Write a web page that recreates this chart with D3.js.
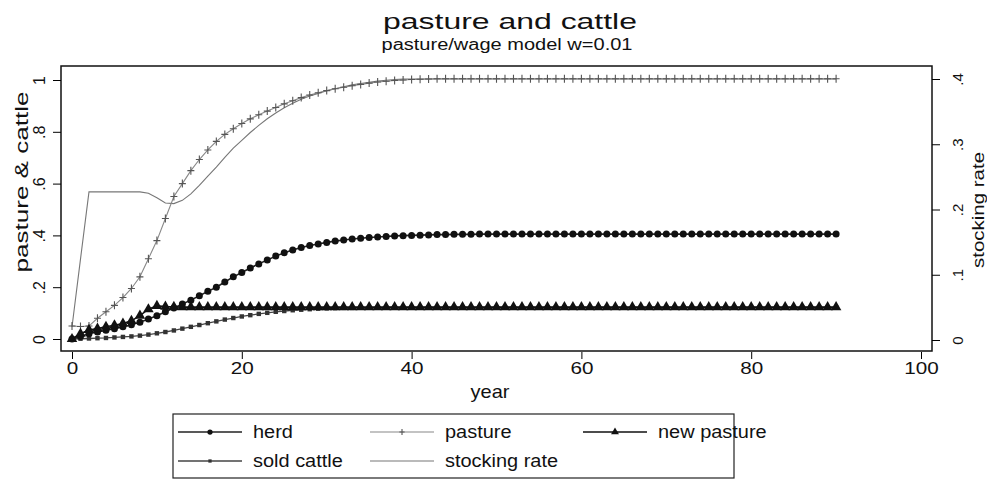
<!DOCTYPE html>
<html>
<head>
<meta charset="utf-8">
<script src="https://cdn.jsdelivr.net/npm/d3@7"></script>
<style>
body { margin: 0; background: #fff; }
svg text { font-family: "Liberation Sans", Arial, Helvetica, sans-serif; fill: #111; }
</style>
</head>
<body>
<div id="viz"></div>
<script>
// values, one per year 0..90
var years = [0,1,2,3,4,5,6,7,8,9,
    10,11,12,13,14,15,16,17,18,19,
    20,21,22,23,24,25,26,27,28,29,
    30,31,32,33,34,35,36,37,38,39,
    40,41,42,43,44,45,46,47,48,49,
    50,51,52,53,54,55,56,57,58,59,
    60,61,62,63,64,65,66,67,68,69,
    70,71,72,73,74,75,76,77,78,79,
    80,81,82,83,84,85,86,87,88,89,
    90];

var herd = [0,0.01,0.02,0.027,0.034,0.04,0.047,0.055,0.065,0.077,
    0.09,0.105,0.12,0.135,0.15,0.167,0.184,0.2,0.22,0.24,
    0.257,0.274,0.29,0.305,0.32,0.333,0.344,0.353,0.361,0.367,
    0.373,0.378,0.382,0.386,0.389,0.392,0.394,0.396,0.398,0.399,
    0.4,0.401,0.402,0.403,0.403,0.404,0.404,0.404,0.405,0.405,
    0.405,0.405,0.405,0.405,0.405,0.405,0.405,0.405,0.405,0.405,
    0.405,0.405,0.405,0.405,0.405,0.405,0.405,0.405,0.405,0.405,
    0.405,0.405,0.405,0.405,0.405,0.405,0.405,0.405,0.405,0.405,
    0.405,0.405,0.405,0.405,0.405,0.405,0.405,0.405,0.405,0.405,
    0.405];

var pasture = [0.05,0.048,0.05,0.08,0.105,0.13,0.16,0.195,0.24,0.31,
    0.38,0.465,0.55,0.6,0.65,0.693,0.73,0.763,0.79,0.812,
    0.832,0.85,0.866,0.88,0.894,0.908,0.92,0.932,0.942,0.951,
    0.959,0.966,0.972,0.978,0.983,0.988,0.992,0.995,0.998,1.0,
    1.002,1.003,1.004,1.005,1.005,1.005,1.005,1.005,1.005,1.005,
    1.005,1.005,1.005,1.005,1.005,1.005,1.005,1.005,1.005,1.005,
    1.005,1.005,1.005,1.005,1.005,1.005,1.005,1.005,1.005,1.005,
    1.005,1.005,1.005,1.005,1.005,1.005,1.005,1.005,1.005,1.005,
    1.005,1.005,1.005,1.005,1.005,1.005,1.005,1.005,1.005,1.005,
    1.005];

var newPasture = [0,0.02,0.035,0.04,0.047,0.053,0.06,0.07,0.09,0.115,
    0.128,0.125,0.124,0.123,0.123,0.123,0.123,0.123,0.123,0.123,
    0.123,0.123,0.123,0.123,0.123,0.123,0.123,0.123,0.123,0.123,
    0.123,0.123,0.123,0.123,0.123,0.123,0.123,0.123,0.123,0.123,
    0.123,0.123,0.123,0.123,0.123,0.123,0.123,0.123,0.123,0.123,
    0.123,0.123,0.123,0.123,0.123,0.123,0.123,0.123,0.123,0.123,
    0.123,0.123,0.123,0.123,0.123,0.123,0.123,0.123,0.123,0.123,
    0.123,0.123,0.123,0.123,0.123,0.123,0.123,0.123,0.123,0.123,
    0.123,0.123,0.123,0.123,0.123,0.123,0.123,0.123,0.123,0.123,
    0.123];

var soldCattle = [0,0.001,0.002,0.003,0.004,0.006,0.008,0.01,0.013,0.017,
    0.022,0.027,0.033,0.04,0.047,0.054,0.061,0.068,0.075,0.081,
    0.087,0.092,0.097,0.101,0.105,0.108,0.111,0.113,0.115,0.117,
    0.118,0.119,0.12,0.12,0.121,0.121,0.121,0.122,0.122,0.122,
    0.122,0.122,0.122,0.122,0.122,0.122,0.122,0.122,0.122,0.122,
    0.122,0.122,0.122,0.122,0.122,0.122,0.122,0.122,0.122,0.122,
    0.122,0.122,0.122,0.122,0.122,0.122,0.122,0.122,0.122,0.122,
    0.122,0.122,0.122,0.122,0.122,0.122,0.122,0.122,0.122,0.122,
    0.122,0.122,0.122,0.122,0.122,0.122,0.122,0.122,0.122,0.122,
    0.122];

// stocking rate is on the right hand axis
var stockingRate = [0.02,0.124,0.227,0.227,0.227,0.227,0.227,0.227,0.227,0.225,
    0.218,0.21,0.209,0.214,0.224,0.237,0.251,0.265,0.28,0.294,
    0.306,0.318,0.329,0.339,0.348,0.356,0.363,0.369,0.374,0.378,
    0.382,0.385,0.388,0.391,0.393,0.395,0.397,0.398,0.399,0.4,
    0.4,0.4,0.4,0.4,0.4,0.4,0.4,0.4,0.4,0.4,
    0.4,0.4,0.4,0.4,0.4,0.4,0.4,0.4,0.4,0.4,
    0.4,0.4,0.4,0.4,0.4,0.4,0.4,0.4,0.4,0.4,
    0.4,0.4,0.4,0.4,0.4,0.4,0.4,0.4,0.4,0.4,
    0.4,0.4,0.4,0.4,0.4,0.4,0.4,0.4,0.4,0.4,
    0.4];

var xTicks = [0, 20, 40, 60, 80, 100];
var xTickLabels = ["0", "20", "40", "60", "80", "100"];
var leftTicks = [0, 0.2, 0.4, 0.6, 0.8, 1];
var leftTickLabels = ["0", ".2", ".4", ".6", ".8", "1"];
var rightTicks = [0, 0.1, 0.2, 0.3, 0.4];
var rightTickLabels = ["0", ".1", ".2", ".3", ".4"];

var legendLabels = ["herd", "pasture", "new pasture", "sold cattle", "stocking rate"];

var width = 987;
var height = 479;

var svg = d3.select("#viz").append("svg").attr("width", width).attr("height", height);

var x = d3.scaleLinear().domain([0, 100]).range([72, 921]);
var yLeft = d3.scaleLinear().domain([0, 1]).range([339, 80]);
var yRight = d3.scaleLinear().domain([0, 0.4]).range([340, 79]);

// the scan's letters are wider than Liberation Sans, so stretch them to length
function fit(sel, len) {
    sel.attr("textLength", len).attr("lengthAdjust", "spacingAndGlyphs");
}
function widen(sel, k) {
    sel.each(function () {
        var w = this.getComputedTextLength();
        d3.select(this).call(fit, w * k);
    });
}

// titles
svg.append("text")
    .attr("x", 510).attr("y", 29)
    .attr("text-anchor", "middle")
    .attr("font-size", 22.5)
    .text("pasture and cattle")
    .call(fit, 254);

svg.append("text")
    .attr("x", 507).attr("y", 50)
    .attr("text-anchor", "middle")
    .attr("font-size", 16)
    .text("pasture/wage model w=0.01")
    .call(fit, 251);

// plot frame
svg.append("rect")
    .attr("x", 61).attr("y", 66)
    .attr("width", 871).attr("height", 285)
    .attr("fill", "none")
    .attr("stroke", "#111")
    .attr("stroke-width", 1.5);

// x axis
var xAxis = svg.append("g")
    .attr("transform", "translate(0,352)")
    .call(d3.axisBottom(x).tickValues(xTicks).tickSize(7)
        .tickFormat(function (d, i) { return xTickLabels[i]; }));
xAxis.select(".domain").remove();
xAxis.attr("font-size", 16.5);
xAxis.selectAll("text").each(function (d, i) {
    d3.select(this).call(fit, xTickLabels[i].length * 11.5);
});

svg.append("text")
    .attr("x", 490).attr("y", 398)
    .attr("text-anchor", "middle")
    .attr("font-size", 18.5)
    .text("year")
    .call(widen, 1.08);

// left axis
var leftAxis = svg.append("g")
    .attr("transform", "translate(61,0)")
    .call(d3.axisLeft(yLeft).tickValues(leftTicks).tickSize(8)
        .tickFormat(function (d, i) { return leftTickLabels[i]; }));
leftAxis.select(".domain").remove();
leftAxis.attr("font-size", 16);
leftAxis.selectAll("text")
    .attr("x", null).attr("dy", null)
    .attr("text-anchor", "middle")
    .attr("transform", "translate(-16,0) rotate(-90)");

svg.append("text")
    .attr("transform", "translate(28,182) rotate(-90)")
    .attr("text-anchor", "middle")
    .attr("font-size", 19)
    .text("pasture & cattle")
    .call(fit, 181);

// right axis
var rightAxis = svg.append("g")
    .attr("transform", "translate(932,0)")
    .call(d3.axisRight(yRight).tickValues(rightTicks).tickSize(8)
        .tickFormat(function (d, i) { return rightTickLabels[i]; }));
rightAxis.select(".domain").remove();
rightAxis.attr("font-size", 15);
rightAxis.selectAll("text")
    .attr("x", null).attr("dy", null)
    .attr("text-anchor", "middle")
    .attr("transform", "translate(31,0) rotate(-90)");

svg.append("text")
    .attr("transform", "translate(984,210) rotate(-90)")
    .attr("text-anchor", "middle")
    .attr("font-size", 17)
    .text("stocking rate")
    .call(fit, 116);

// series
var series = [
    {label: "stocking rate", values: stockingRate, y: yRight, color: "#777", lw: 1.1, marker: "none"},
    {label: "pasture", values: pasture, y: yLeft, color: "#888", lw: 1.1, marker: "plus"},
    {label: "sold cattle", values: soldCattle, y: yLeft, color: "#444", lw: 1.3, marker: "square"},
    {label: "herd", values: herd, y: yLeft, color: "#222", lw: 1.6, marker: "circle"},
    {label: "new pasture", values: newPasture, y: yLeft, color: "#111", lw: 1.6, marker: "triangle"}
];

function drawMarker(g, type, cx, cy, s) {
    if (type == "circle") {
        g.append("circle").attr("cx", cx).attr("cy", cy).attr("r", 3.5 * s).attr("fill", "#111");
    } else if (type == "triangle") {
        g.append("path")
            .attr("d", d3.symbol().type(d3.symbolTriangle).size(48 * s * s)())
            .attr("transform", "translate(" + cx + "," + cy + ")")
            .attr("fill", "#111");
    } else if (type == "square") {
        g.append("rect").attr("x", cx - 2.2 * s).attr("y", cy - 2.2 * s)
            .attr("width", 4.4 * s).attr("height", 4.4 * s).attr("fill", "#333");
    } else if (type == "plus") {
        g.append("path")
            .attr("d", "M" + (cx - 3.5 * s) + "," + cy + "H" + (cx + 3.5 * s) +
                "M" + cx + "," + (cy - 4 * s) + "V" + (cy + 4 * s))
            .attr("stroke", "#555").attr("stroke-width", 1.1).attr("fill", "none");
    }
}

var plot = svg.append("g");
series.forEach(function (s) {
    var pts = years.map(function (t, i) { return [x(t), s.y(s.values[i])]; });
    plot.append("path")
        .attr("d", d3.line()(pts))
        .attr("fill", "none")
        .attr("stroke", s.color)
        .attr("stroke-width", s.lw);
    var mg = plot.append("g");
    pts.forEach(function (p) {
        drawMarker(mg, s.marker, p[0], p[1], 1);
    });
});

// legend
svg.append("rect")
    .attr("x", 173).attr("y", 414)
    .attr("width", 561).attr("height", 64)
    .attr("fill", "none")
    .attr("stroke", "#222")
    .attr("stroke-width", 1.2);

var colX = [178, 370, 583];
var rowY = [432, 461];
legendLabels.forEach(function (lab, i) {
    var s = series.filter(function (d) { return d.label == lab; })[0];
    var lx = colX[i % 3];
    var ly = rowY[Math.floor(i / 3)];
    var g = svg.append("g");
    g.append("line")
        .attr("x1", lx).attr("x2", lx + 64)
        .attr("y1", ly).attr("y2", ly)
        .attr("stroke", s.color)
        .attr("stroke-width", s.lw);
    drawMarker(g, s.marker, lx + 32, ly, 0.75);
    g.append("text")
        .attr("x", lx + 75).attr("y", ly + 6)
        .attr("font-size", 17.5)
        .text(lab)
        .call(widen, 1.14);
});
</script>
</body>
</html>
